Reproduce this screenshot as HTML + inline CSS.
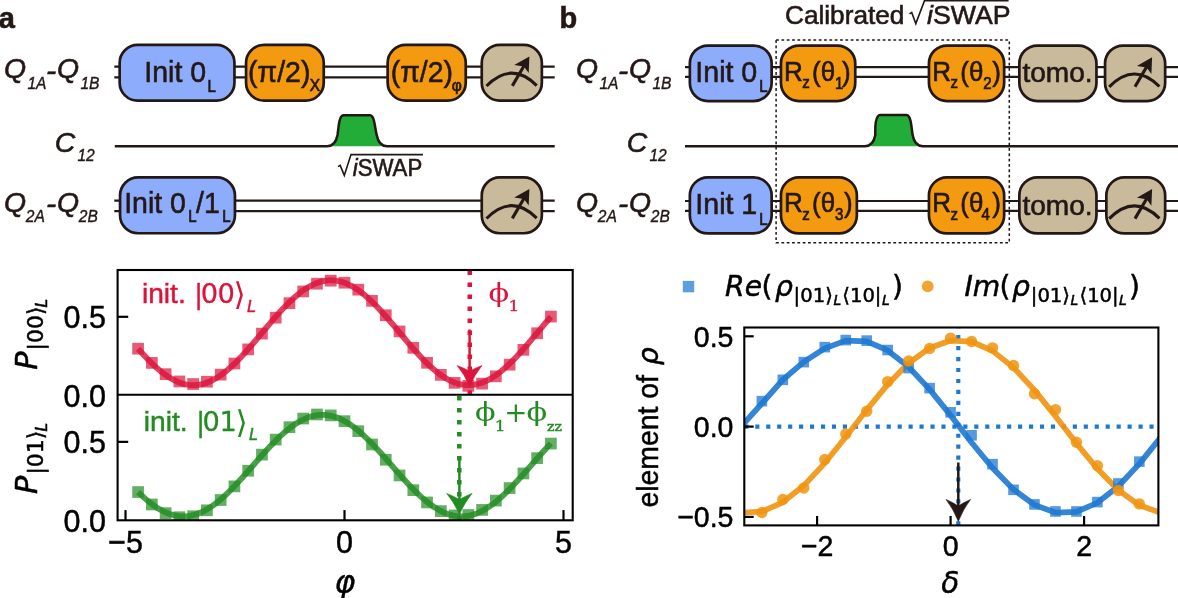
<!DOCTYPE html>
<html lang="en"><head><meta charset="utf-8"><title>Figure</title>
<style>
html,body{margin:0;padding:0;background:#fff;}
body{width:1178px;height:598px;overflow:hidden;}
svg{display:block;}
.ls{font-family:"Liberation Sans", sans-serif;}
.dj{font-family:"DejaVu Sans", sans-serif;}
.ds{font-family:"DejaVu Serif", serif;}
text{white-space:pre;}
</style></head><body>
<svg width="1178" height="598" viewBox="0 0 1178 598">
<rect width="1178" height="598" fill="#fff"/>
<text class="ls" transform="translate(-1.3,28.1) scale(0.9615,1)" font-size="30.16" fill="#231815" stroke="#231815" stroke-width="0.6" style="font-weight:bold;">a</text>
<text class="ls" x="4" y="78.2" font-size="28.4" fill="#231815" stroke="#231815" stroke-width="0.6" style="font-style:italic;">Q</text>
<text class="ls" x="27.4" y="88.6" font-size="15.6" fill="#231815" stroke="#231815" stroke-width="0.35" style="font-style:italic;">1A</text>
<text class="ls" transform="translate(46,79.6) scale(1.0800,1)" font-size="28.4" fill="#231815" stroke="#231815" stroke-width="0.6" style="font-style:italic;">-</text>
<text class="ls" x="57" y="78.2" font-size="28.4" fill="#231815" stroke="#231815" stroke-width="0.6" style="font-style:italic;">Q</text>
<text class="ls" x="80.4" y="88.6" font-size="15.6" fill="#231815" stroke="#231815" stroke-width="0.35" style="font-style:italic;">1B</text>
<text class="ls" x="54.8" y="151.8" font-size="28.4" fill="#231815" stroke="#231815" stroke-width="0.6" style="font-style:italic;">C</text>
<text class="ls" x="77.4" y="160.6" font-size="15.6" fill="#231815" stroke="#231815" stroke-width="0.35" style="font-style:italic;">12</text>
<text class="ls" x="4" y="211.5" font-size="28.4" fill="#231815" stroke="#231815" stroke-width="0.6" style="font-style:italic;">Q</text>
<text class="ls" x="25.8" y="221.9" font-size="15.6" fill="#231815" stroke="#231815" stroke-width="0.35" style="font-style:italic;">2A</text>
<text class="ls" transform="translate(46,212.9) scale(1.0800,1)" font-size="28.4" fill="#231815" stroke="#231815" stroke-width="0.6" style="font-style:italic;">-</text>
<text class="ls" x="57" y="211.5" font-size="28.4" fill="#231815" stroke="#231815" stroke-width="0.6" style="font-style:italic;">Q</text>
<text class="ls" x="78.8" y="221.9" font-size="15.6" fill="#231815" stroke="#231815" stroke-width="0.35" style="font-style:italic;">2B</text>
<line x1="114.3" y1="66.7" x2="554.7" y2="66.7" stroke="#231815" stroke-width="2.2"/>
<line x1="114.3" y1="77.3" x2="554.7" y2="77.3" stroke="#231815" stroke-width="2.2"/>
<line x1="114.3" y1="200.7" x2="554.7" y2="200.7" stroke="#231815" stroke-width="2.2"/>
<line x1="114.3" y1="211.2" x2="554.7" y2="211.2" stroke="#231815" stroke-width="2.2"/>
<path d="M327.2,146.2 C332,146.2 336,143 337.5,135 C338.6,128 338.8,120 341,117 C342,115.6 343,115.2 343.5,115.2 L370,115.2 C370.5,115.2 371.5,115.6 372.5,117 C374.7,120 374.9,128 376.7,135 C378.2,143 382.2,146.2 387,146.2 Z" fill="#22AC38" stroke="none"/>
<path d="M114.8,146.2 L327.2,146.2 C332,146.2 336,143 337.5,135 C338.6,128 338.8,120 341,117 C342,115.6 343,115.2 343.5,115.2 L370,115.2 C370.5,115.2 371.5,115.6 372.5,117 C374.7,120 374.9,128 376.7,135 C378.2,143 382.2,146.2 387,146.2 L554.7,146.2" fill="none" stroke="#231815" stroke-width="2.5" stroke-linejoin="round"/>
<rect x="119.65" y="44.95" width="114.8" height="55.7" rx="18" ry="18" fill="#8DACFC" stroke="#231815" stroke-width="2.7"/>
<rect x="246.05" y="44.95" width="77.7" height="55.7" rx="18" ry="18" fill="#F39A11" stroke="#231815" stroke-width="2.7"/>
<rect x="387.65" y="44.95" width="78.1" height="55.7" rx="18" ry="18" fill="#F39A11" stroke="#231815" stroke-width="2.7"/>
<rect x="481.75" y="44.95" width="60.1" height="55.7" rx="18" ry="18" fill="#C9BA9B" stroke="#231815" stroke-width="2.7"/>
<g transform="translate(0,0)" stroke="#231815" fill="none" stroke-width="3.1">
<path d="M486.5,86 Q511.6,60.5 536.7,85.6"/>
<line x1="512.3" y1="85.9" x2="524.5" y2="65"/>
<path d="M529.4,56.4 L514.2,65.0 L523.9,66.6 L528.7,73.0 Z" fill="#231815" stroke="none"/>
</g>
<rect x="120.05" y="177.45" width="114.9" height="55.8" rx="18" ry="18" fill="#8DACFC" stroke="#231815" stroke-width="2.7"/>
<rect x="481.75" y="177.45" width="60.1" height="55.8" rx="18" ry="18" fill="#C9BA9B" stroke="#231815" stroke-width="2.7"/>
<g transform="translate(0,132.5)" stroke="#231815" fill="none" stroke-width="3.1">
<path d="M486.5,86 Q511.6,60.5 536.7,85.6"/>
<line x1="512.3" y1="85.9" x2="524.5" y2="65"/>
<path d="M529.4,56.4 L514.2,65.0 L523.9,66.6 L528.7,73.0 Z" fill="#231815" stroke="none"/>
</g>
<text class="ls" transform="translate(144.3,82.3) scale(0.9615,1)" font-size="29.64" fill="#231815" stroke="#231815" stroke-width="0.6">Init 0</text>
<text class="ls" transform="translate(207.6,91.8) scale(0.9615,1)" font-size="15.6" fill="#231815" stroke="#231815" stroke-width="0.7">L</text>
<text class="ls" transform="translate(248,81.6) scale(0.9615,1)" font-size="29.64" fill="#231815" stroke="#231815" stroke-width="0.6">(π/2)</text>
<text class="ls" transform="translate(309.8,90.5) scale(0.9615,1)" font-size="16.12" fill="#231815" stroke="#231815" stroke-width="0.7">X</text>
<text class="ls" transform="translate(390.7,81.6) scale(0.9615,1)" font-size="29.64" fill="#231815" stroke="#231815" stroke-width="0.6">(π/2)</text>
<text class="ls" transform="translate(451.8,91.3) scale(0.9615,1)" font-size="16.12" fill="#231815" stroke="#231815" stroke-width="0.7">φ</text>
<text class="ls" transform="translate(124.2,213.4) scale(0.9615,1)" font-size="29.64" fill="#231815" stroke="#231815" stroke-width="0.6">Init 0</text>
<text class="ls" transform="translate(188.2,222) scale(0.9615,1)" font-size="15.6" fill="#231815" stroke="#231815" stroke-width="0.7">L</text>
<text class="ls" transform="translate(196,213.4) scale(0.9615,1)" font-size="29.64" fill="#231815" stroke="#231815" stroke-width="0.6">/1</text>
<text class="ls" transform="translate(222.2,222) scale(0.9615,1)" font-size="15.6" fill="#231815" stroke="#231815" stroke-width="0.7">L</text>
<path d="M338,166.66 L340.2,165.42 L344.3,175.4 L351,154.6 L423,154.6" fill="none" stroke="#231815" stroke-width="1.6" stroke-linejoin="miter"/>
<text class="ls" transform="translate(352.7,175.5) scale(0.9615,1)" font-size="23.09" fill="#231815" stroke="#231815" stroke-width="0.6" style="font-style:italic;">i</text>
<text class="ls" transform="translate(357.7,175.5) scale(0.9615,1)" font-size="23.09" fill="#231815" stroke="#231815" stroke-width="0.6">SWAP</text>
<text class="ls" transform="translate(559.6,28.3) scale(0.9615,1)" font-size="30.16" fill="#231815" stroke="#231815" stroke-width="0.6" style="font-weight:bold;">b</text>
<text class="ls" x="576" y="78.2" font-size="28.4" fill="#231815" stroke="#231815" stroke-width="0.6" style="font-style:italic;">Q</text>
<text class="ls" x="599.4" y="88.6" font-size="15.6" fill="#231815" stroke="#231815" stroke-width="0.35" style="font-style:italic;">1A</text>
<text class="ls" transform="translate(618,79.6) scale(1.0800,1)" font-size="28.4" fill="#231815" stroke="#231815" stroke-width="0.6" style="font-style:italic;">-</text>
<text class="ls" x="629" y="78.2" font-size="28.4" fill="#231815" stroke="#231815" stroke-width="0.6" style="font-style:italic;">Q</text>
<text class="ls" x="652.4" y="88.6" font-size="15.6" fill="#231815" stroke="#231815" stroke-width="0.35" style="font-style:italic;">1B</text>
<text class="ls" x="626.8" y="151.8" font-size="28.4" fill="#231815" stroke="#231815" stroke-width="0.6" style="font-style:italic;">C</text>
<text class="ls" x="649.4" y="160.6" font-size="15.6" fill="#231815" stroke="#231815" stroke-width="0.35" style="font-style:italic;">12</text>
<text class="ls" x="576" y="211.5" font-size="28.4" fill="#231815" stroke="#231815" stroke-width="0.6" style="font-style:italic;">Q</text>
<text class="ls" x="597.8" y="221.9" font-size="15.6" fill="#231815" stroke="#231815" stroke-width="0.35" style="font-style:italic;">2A</text>
<text class="ls" transform="translate(618,212.9) scale(1.0800,1)" font-size="28.4" fill="#231815" stroke="#231815" stroke-width="0.6" style="font-style:italic;">-</text>
<text class="ls" x="629" y="211.5" font-size="28.4" fill="#231815" stroke="#231815" stroke-width="0.6" style="font-style:italic;">Q</text>
<text class="ls" x="650.8" y="221.9" font-size="15.6" fill="#231815" stroke="#231815" stroke-width="0.35" style="font-style:italic;">2B</text>
<line x1="685" y1="67.2" x2="1178" y2="67.2" stroke="#231815" stroke-width="2.2"/>
<line x1="685" y1="76.9" x2="1178" y2="76.9" stroke="#231815" stroke-width="2.2"/>
<line x1="685" y1="201" x2="1178" y2="201" stroke="#231815" stroke-width="2.2"/>
<line x1="685" y1="210.9" x2="1178" y2="210.9" stroke="#231815" stroke-width="2.2"/>
<path d="M865,146.3 C869.8,146.3 873.8,143.1 875.3,135.1 C875.1,128.1 875.3,119.9 877.5,116.9 C878.5,115.5 879.5,115.1 880,115.1 L906.6,115.1 C907.1,115.1 908.1,115.5 909.1,116.9 C911.3,119.9 911.5,128.1 912.6,135.1 C914.1,143.1 918.1,146.3 922.9,146.3 Z" fill="#22AC38" stroke="none"/>
<path d="M685,146.3 L865,146.3 C869.8,146.3 873.8,143.1 875.3,135.1 C875.1,128.1 875.3,119.9 877.5,116.9 C878.5,115.5 879.5,115.1 880,115.1 L906.6,115.1 C907.1,115.1 908.1,115.5 909.1,116.9 C911.3,119.9 911.5,128.1 912.6,135.1 C914.1,143.1 918.1,146.3 922.9,146.3 L1178,146.3" fill="none" stroke="#231815" stroke-width="2.5" stroke-linejoin="round"/>
<rect x="776.1" y="40.1" width="233.2" height="202.6" fill="none" stroke="#231815" stroke-width="1.5" stroke-dasharray="2.8 2.53"/>
<rect x="689.85" y="45.55" width="81.8" height="55.5" rx="18" ry="18" fill="#8DACFC" stroke="#231815" stroke-width="2.7"/>
<rect x="780.95" y="45.55" width="74.3" height="55.5" rx="18" ry="18" fill="#F39A11" stroke="#231815" stroke-width="2.7"/>
<rect x="928.95" y="45.55" width="75.2" height="55.5" rx="18" ry="18" fill="#F39A11" stroke="#231815" stroke-width="2.7"/>
<rect x="1019.35" y="45.55" width="77.1" height="55.5" rx="18" ry="18" fill="#C9BA9B" stroke="#231815" stroke-width="2.7"/>
<rect x="1105.05" y="45.55" width="60.1" height="55.5" rx="18" ry="18" fill="#C9BA9B" stroke="#231815" stroke-width="2.7"/>
<g transform="translate(622.7,0.9)" stroke="#231815" fill="none" stroke-width="3.1">
<path d="M486.5,86 Q511.6,60.5 536.7,85.6"/>
<line x1="512.3" y1="85.9" x2="524.5" y2="65"/>
<path d="M529.4,56.4 L514.2,65.0 L523.9,66.6 L528.7,73.0 Z" fill="#231815" stroke="none"/>
</g>
<rect x="689.85" y="177.35" width="81.8" height="56.1" rx="18" ry="18" fill="#8DACFC" stroke="#231815" stroke-width="2.7"/>
<rect x="780.95" y="177.35" width="75.9" height="56.1" rx="18" ry="18" fill="#F39A11" stroke="#231815" stroke-width="2.7"/>
<rect x="928.95" y="177.35" width="75.2" height="56.1" rx="18" ry="18" fill="#F39A11" stroke="#231815" stroke-width="2.7"/>
<rect x="1019.35" y="177.35" width="77.1" height="56.1" rx="18" ry="18" fill="#C9BA9B" stroke="#231815" stroke-width="2.7"/>
<rect x="1106.35" y="177.35" width="58.8" height="56.1" rx="18" ry="18" fill="#C9BA9B" stroke="#231815" stroke-width="2.7"/>
<g transform="translate(622.7,132.7)" stroke="#231815" fill="none" stroke-width="3.1">
<path d="M486.5,86 Q511.6,60.5 536.7,85.6"/>
<line x1="512.3" y1="85.9" x2="524.5" y2="65"/>
<path d="M529.4,56.4 L514.2,65.0 L523.9,66.6 L528.7,73.0 Z" fill="#231815" stroke="none"/>
</g>
<text class="ls" transform="translate(695.3,81.8) scale(0.9615,1)" font-size="29.74" fill="#231815" stroke="#231815" stroke-width="0.6">Init 0</text>
<text class="ls" transform="translate(759.2,92) scale(0.9615,1)" font-size="15.6" fill="#231815" stroke="#231815" stroke-width="0.7">L</text>
<text class="ls" transform="translate(784,80.6) scale(0.9615,1)" font-size="27.04" fill="#231815" stroke="#231815" stroke-width="0.6">R</text>
<text class="ls" transform="translate(802.2,88.4) scale(0.9615,1)" font-size="15.6" fill="#231815" stroke="#231815" stroke-width="0.7">z</text>
<text class="ls" transform="translate(812,80.6) scale(0.9615,1)" font-size="27.04" fill="#231815" stroke="#231815" stroke-width="0.6">(θ</text>
<text class="ls" transform="translate(834.9,88.7) scale(0.9615,1)" font-size="15.6" fill="#231815" stroke="#231815" stroke-width="0.7">1</text>
<text class="ls" transform="translate(841.9,80.6) scale(0.9615,1)" font-size="27.04" fill="#231815" stroke="#231815" stroke-width="0.6">)</text>
<text class="ls" transform="translate(932.3,80.6) scale(0.9615,1)" font-size="27.04" fill="#231815" stroke="#231815" stroke-width="0.6">R</text>
<text class="ls" transform="translate(950.5,88.4) scale(0.9615,1)" font-size="15.6" fill="#231815" stroke="#231815" stroke-width="0.7">z</text>
<text class="ls" transform="translate(960.3,80.6) scale(0.9615,1)" font-size="27.04" fill="#231815" stroke="#231815" stroke-width="0.6">(θ</text>
<text class="ls" transform="translate(983.2,88.7) scale(0.9615,1)" font-size="15.6" fill="#231815" stroke="#231815" stroke-width="0.7">2</text>
<text class="ls" transform="translate(992.2,80.6) scale(0.9615,1)" font-size="27.04" fill="#231815" stroke="#231815" stroke-width="0.6">)</text>
<text class="ls" transform="translate(1022.4,82) scale(1.0250,1)" font-size="27.4" fill="#231815" stroke="#231815" stroke-width="0.6">tomo.</text>
<text class="ls" transform="translate(695.3,214.3) scale(0.9615,1)" font-size="29.74" fill="#231815" stroke="#231815" stroke-width="0.6">Init 1</text>
<text class="ls" transform="translate(759.2,224.5) scale(0.9615,1)" font-size="15.6" fill="#231815" stroke="#231815" stroke-width="0.7">L</text>
<text class="ls" transform="translate(784,212.2) scale(0.9615,1)" font-size="27.04" fill="#231815" stroke="#231815" stroke-width="0.6">R</text>
<text class="ls" transform="translate(802.2,220) scale(0.9615,1)" font-size="15.6" fill="#231815" stroke="#231815" stroke-width="0.7">z</text>
<text class="ls" transform="translate(812,212.2) scale(0.9615,1)" font-size="27.04" fill="#231815" stroke="#231815" stroke-width="0.6">(θ</text>
<text class="ls" transform="translate(834.9,220.3) scale(0.9615,1)" font-size="15.6" fill="#231815" stroke="#231815" stroke-width="0.7">3</text>
<text class="ls" transform="translate(843.9,212.2) scale(0.9615,1)" font-size="27.04" fill="#231815" stroke="#231815" stroke-width="0.6">)</text>
<text class="ls" transform="translate(932.3,212.2) scale(0.9615,1)" font-size="27.04" fill="#231815" stroke="#231815" stroke-width="0.6">R</text>
<text class="ls" transform="translate(950.5,220) scale(0.9615,1)" font-size="15.6" fill="#231815" stroke="#231815" stroke-width="0.7">z</text>
<text class="ls" transform="translate(960.3,212.2) scale(0.9615,1)" font-size="27.04" fill="#231815" stroke="#231815" stroke-width="0.6">(θ</text>
<text class="ls" transform="translate(981.5,220.3) scale(0.9615,1)" font-size="15.6" fill="#231815" stroke="#231815" stroke-width="0.7">4</text>
<text class="ls" transform="translate(992.2,212.2) scale(0.9615,1)" font-size="27.04" fill="#231815" stroke="#231815" stroke-width="0.6">)</text>
<text class="ls" transform="translate(1022.4,214.5) scale(1.0250,1)" font-size="27.4" fill="#231815" stroke="#231815" stroke-width="0.6">tomo.</text>
<text class="ls" x="785" y="24.3" font-size="26.2" fill="#231815" stroke="#231815" stroke-width="0.6">Calibrated</text>
<path d="M909.5,13.94 L911.7,12.56 L915.8,23.6 L924.5,0.6 L1008.6,0.6" fill="none" stroke="#231815" stroke-width="1.6" stroke-linejoin="miter"/>
<text class="ls" x="927" y="24.3" font-size="26.7" fill="#231815" stroke="#231815" stroke-width="0.6" style="font-style:italic;">i</text>
<text class="ls" x="933" y="24.3" font-size="26.7" fill="#231815" stroke="#231815" stroke-width="0.6">SWAP</text>
<clipPath id="ca1"><rect x="117.6" y="270.0" width="455.1" height="124.80000000000001"/></clipPath>
<clipPath id="ca2"><rect x="117.6" y="394.8" width="455.1" height="125.49999999999994"/></clipPath>
<g clip-path="url(#ca1)">
<polyline points="138.1,348.7 140.16,351.04 142.23,353.33 144.29,355.58 146.35,357.77 148.42,359.91 150.48,361.99 152.55,364.01 154.61,365.95 156.67,367.83 158.74,369.62 160.8,371.33 162.87,372.96 164.93,374.5 166.99,375.94 169.06,377.29 171.12,378.54 173.19,379.69 175.25,380.73 177.31,381.67 179.38,382.49 181.44,383.21 183.51,383.82 185.57,384.31 187.63,384.69 189.7,384.95 191.76,385.09 193.83,385.12 195.89,385.04 197.95,384.83 200.02,384.52 202.08,384.08 204.15,383.54 206.21,382.87 208.27,382.1 210.34,381.22 212.4,380.23 214.47,379.14 216.53,377.94 218.59,376.64 220.66,375.25 222.72,373.75 224.79,372.17 226.85,370.5 228.91,368.75 230.98,366.92 233.04,365.01 235.11,363.03 237.17,360.98 239.23,358.87 241.3,356.7 243.36,354.48 245.43,352.21 247.49,349.9 249.55,347.54 251.62,345.16 253.68,342.75 255.75,340.31 257.81,337.86 259.87,335.4 261.94,332.93 264,330.46 266.07,328 268.13,325.54 270.2,323.1 272.26,320.69 274.32,318.3 276.39,315.94 278.45,313.62 280.52,311.34 282.58,309.11 284.64,306.93 286.71,304.81 288.77,302.75 290.84,300.76 292.9,298.84 294.96,296.99 297.03,295.22 299.09,293.54 301.16,291.94 303.22,290.44 305.28,289.02 307.35,287.71 309.41,286.49 311.48,285.38 313.54,284.37 315.6,283.47 317.67,282.68 319.73,282 321.8,281.43 323.86,280.98 325.92,280.64 327.99,280.41 330.05,280.31 332.12,280.32 334.18,280.44 336.24,280.68 338.31,281.04 340.37,281.51 342.44,282.1 344.5,282.79 346.56,283.6 348.63,284.52 350.69,285.55 352.76,286.67 354.82,287.91 356.88,289.24 358.95,290.67 361.01,292.19 363.08,293.8 365.14,295.49 367.2,297.27 369.27,299.13 371.33,301.07 373.4,303.07 375.46,305.14 377.52,307.27 379.59,309.46 381.65,311.7 383.72,313.98 385.78,316.31 387.84,318.67 389.91,321.07 391.97,323.49 394.04,325.93 396.1,328.38 398.16,330.85 400.23,333.32 402.29,335.79 404.36,338.25 406.42,340.7 408.48,343.13 410.55,345.54 412.61,347.92 414.68,350.26 416.74,352.57 418.8,354.83 420.87,357.05 422.93,359.21 425,361.31 427.06,363.34 429.13,365.31 431.19,367.21 433.25,369.03 435.32,370.77 437.38,372.43 439.45,373.99 441.51,375.47 443.57,376.85 445.64,378.13 447.7,379.32 449.77,380.39 451.83,381.37 453.89,382.23 455.96,382.99 458.02,383.63 460.09,384.16 462.15,384.57 464.21,384.87 466.28,385.06 468.34,385.13 470.41,385.08 472.47,384.92 474.53,384.64 476.6,384.24 478.66,383.73 480.73,383.11 482.79,382.37 484.85,381.53 486.92,380.57 488.98,379.51 491.05,378.35 493.11,377.08 495.17,375.72 497.24,374.26 499.3,372.71 501.37,371.07 503.43,369.35 505.49,367.54 507.56,365.65 509.62,363.7 511.69,361.67 513.75,359.58 515.81,357.43 517.88,355.23 519.94,352.97 522.01,350.67 524.07,348.33 526.13,345.96 528.2,343.55 530.26,341.13 532.33,338.68 534.39,336.22 536.45,333.75 538.52,331.28 540.58,328.82 542.65,326.36 544.71,323.92 546.77,321.49 548.84,319.09 550.9,316.72" fill="none" stroke="#DC143C" stroke-width="5.9" stroke-opacity="0.82" stroke-linecap="butt" stroke-linejoin="round"/>
<rect x="132.25" y="342.85" width="11.7" height="11.7" fill="#DC143C" fill-opacity="0.7"/>
<rect x="146.01" y="357.05" width="11.7" height="11.7" fill="#DC143C" fill-opacity="0.7"/>
<rect x="159.77" y="368.32" width="11.7" height="11.7" fill="#DC143C" fill-opacity="0.7"/>
<rect x="173.53" y="375.6" width="11.7" height="11.7" fill="#DC143C" fill-opacity="0.7"/>
<rect x="187.29" y="378.19" width="11.7" height="11.7" fill="#DC143C" fill-opacity="0.7"/>
<rect x="201.05" y="375.85" width="11.7" height="11.7" fill="#DC143C" fill-opacity="0.7"/>
<rect x="214.81" y="368.78" width="11.7" height="11.7" fill="#DC143C" fill-opacity="0.7"/>
<rect x="228.57" y="357.65" width="11.7" height="11.7" fill="#DC143C" fill-opacity="0.7"/>
<rect x="242.33" y="343.53" width="11.7" height="11.7" fill="#DC143C" fill-opacity="0.7"/>
<rect x="256.09" y="327.76" width="11.7" height="11.7" fill="#DC143C" fill-opacity="0.7"/>
<rect x="269.85" y="311.84" width="11.7" height="11.7" fill="#DC143C" fill-opacity="0.7"/>
<rect x="283.61" y="297.32" width="11.7" height="11.7" fill="#DC143C" fill-opacity="0.7"/>
<rect x="297.37" y="285.6" width="11.7" height="11.7" fill="#DC143C" fill-opacity="0.7"/>
<rect x="311.13" y="277.85" width="11.7" height="11.7" fill="#DC143C" fill-opacity="0.7"/>
<rect x="324.89" y="274.83" width="11.7" height="11.7" fill="#DC143C" fill-opacity="0.7"/>
<rect x="338.65" y="276.87" width="11.7" height="11.7" fill="#DC143C" fill-opacity="0.7"/>
<rect x="352.41" y="283.81" width="11.7" height="11.7" fill="#DC143C" fill-opacity="0.7"/>
<rect x="366.17" y="295.01" width="11.7" height="11.7" fill="#DC143C" fill-opacity="0.7"/>
<rect x="379.93" y="309.39" width="11.7" height="11.7" fill="#DC143C" fill-opacity="0.7"/>
<rect x="393.69" y="325.57" width="11.7" height="11.7" fill="#DC143C" fill-opacity="0.7"/>
<rect x="407.45" y="341.96" width="11.7" height="11.7" fill="#DC143C" fill-opacity="0.7"/>
<rect x="421.21" y="356.94" width="11.7" height="11.7" fill="#DC143C" fill-opacity="0.7"/>
<rect x="434.97" y="369.02" width="11.7" height="11.7" fill="#DC143C" fill-opacity="0.7"/>
<rect x="448.73" y="376.98" width="11.7" height="11.7" fill="#DC143C" fill-opacity="0.7"/>
<rect x="462.49" y="380.01" width="11.7" height="11.7" fill="#DC143C" fill-opacity="0.7"/>
<rect x="476.25" y="377.78" width="11.7" height="11.7" fill="#DC143C" fill-opacity="0.7"/>
<rect x="490.01" y="370.49" width="11.7" height="11.7" fill="#DC143C" fill-opacity="0.7"/>
<rect x="503.77" y="358.84" width="11.7" height="11.7" fill="#DC143C" fill-opacity="0.7"/>
<rect x="517.53" y="343.98" width="11.7" height="11.7" fill="#DC143C" fill-opacity="0.7"/>
<rect x="531.29" y="327.39" width="11.7" height="11.7" fill="#DC143C" fill-opacity="0.7"/>
<rect x="545.05" y="310.72" width="11.7" height="11.7" fill="#DC143C" fill-opacity="0.7"/>
</g>
<g clip-path="url(#ca2)">
<polyline points="138.1,492.03 140.16,494.02 142.23,495.95 144.29,497.82 146.35,499.61 148.42,501.33 150.48,502.98 152.55,504.54 154.61,506.02 156.67,507.4 158.74,508.7 160.8,509.91 162.87,511.02 164.93,512.03 166.99,512.93 169.06,513.74 171.12,514.44 173.19,515.04 175.25,515.52 177.31,515.9 179.38,516.17 181.44,516.33 183.51,516.38 185.57,516.32 187.63,516.14 189.7,515.86 191.76,515.47 193.83,514.97 195.89,514.37 197.95,513.65 200.02,512.83 202.08,511.91 204.15,510.89 206.21,509.77 208.27,508.56 210.34,507.25 212.4,505.85 214.47,504.36 216.53,502.79 218.59,501.14 220.66,499.41 222.72,497.61 224.79,495.73 226.85,493.8 228.91,491.8 230.98,489.74 233.04,487.63 235.11,485.48 237.17,483.28 239.23,481.04 241.3,478.77 243.36,476.47 245.43,474.14 247.49,471.8 249.55,469.44 251.62,467.08 253.68,464.71 255.75,462.35 257.81,459.99 259.87,457.64 261.94,455.31 264,453.01 266.07,450.73 268.13,448.48 270.2,446.27 272.26,444.11 274.32,441.99 276.39,439.92 278.45,437.91 280.52,435.95 282.58,434.07 284.64,432.25 286.71,430.5 288.77,428.83 290.84,427.24 292.9,425.74 294.96,424.32 297.03,422.99 299.09,421.75 301.16,420.61 303.22,419.56 305.28,418.62 307.35,417.78 309.41,417.04 311.48,416.41 313.54,415.89 315.6,415.47 317.67,415.17 319.73,414.97 321.8,414.88 323.86,414.91 325.92,415.04 327.99,415.29 330.05,415.64 332.12,416.1 334.18,416.67 336.24,417.35 338.31,418.13 340.37,419.02 342.44,420.01 344.5,421.09 346.56,422.28 348.63,423.55 350.69,424.92 352.76,426.38 354.82,427.92 356.88,429.55 358.95,431.25 361.01,433.03 363.08,434.88 365.14,436.8 367.2,438.77 369.27,440.81 371.33,442.9 373.4,445.04 375.46,447.23 377.52,449.46 379.59,451.72 381.65,454.01 383.72,456.32 385.78,458.66 387.84,461.01 389.91,463.37 391.97,465.74 394.04,468.11 396.1,470.47 398.16,472.82 400.23,475.15 402.29,477.47 404.36,479.76 406.42,482.02 408.48,484.24 410.55,486.42 412.61,488.56 414.68,490.64 416.74,492.67 418.8,494.65 420.87,496.56 422.93,498.4 425,500.17 427.06,501.87 429.13,503.49 431.19,505.02 433.25,506.47 435.32,507.83 437.38,509.1 439.45,510.27 441.51,511.35 443.57,512.33 445.64,513.2 447.7,513.98 449.77,514.64 451.83,515.2 453.89,515.66 455.96,516 458.02,516.23 460.09,516.36 462.15,516.37 464.21,516.27 466.28,516.07 468.34,515.75 470.41,515.32 472.47,514.79 474.53,514.15 476.6,513.4 478.66,512.55 480.73,511.6 482.79,510.55 484.85,509.4 486.92,508.15 488.98,506.81 491.05,505.38 493.11,503.87 495.17,502.27 497.24,500.59 499.3,498.84 501.37,497.02 503.43,495.12 505.49,493.16 507.56,491.15 509.62,489.07 511.69,486.95 513.75,484.78 515.81,482.56 517.88,480.31 519.94,478.03 522.01,475.72 524.07,473.39 526.13,471.05 528.2,468.69 530.26,466.32 532.33,463.95 534.39,461.59 536.45,459.24 538.52,456.9 540.58,454.57 542.65,452.28 544.71,450.01 546.77,447.77 548.84,445.58 550.9,443.42" fill="none" stroke="#228B22" stroke-width="5.9" stroke-opacity="0.82" stroke-linecap="butt" stroke-linejoin="round"/>
<rect x="132.25" y="486.18" width="11.7" height="11.7" fill="#228B22" fill-opacity="0.7"/>
<rect x="146.01" y="498.63" width="11.7" height="11.7" fill="#228B22" fill-opacity="0.7"/>
<rect x="159.77" y="507.31" width="11.7" height="11.7" fill="#228B22" fill-opacity="0.7"/>
<rect x="173.53" y="511.37" width="11.7" height="11.7" fill="#228B22" fill-opacity="0.7"/>
<rect x="187.29" y="510.39" width="11.7" height="11.7" fill="#228B22" fill-opacity="0.7"/>
<rect x="201.05" y="504.47" width="11.7" height="11.7" fill="#228B22" fill-opacity="0.7"/>
<rect x="214.81" y="494.18" width="11.7" height="11.7" fill="#228B22" fill-opacity="0.7"/>
<rect x="228.57" y="480.54" width="11.7" height="11.7" fill="#228B22" fill-opacity="0.7"/>
<rect x="242.33" y="464.9" width="11.7" height="11.7" fill="#228B22" fill-opacity="0.7"/>
<rect x="256.09" y="448.78" width="11.7" height="11.7" fill="#228B22" fill-opacity="0.7"/>
<rect x="269.85" y="433.78" width="11.7" height="11.7" fill="#228B22" fill-opacity="0.7"/>
<rect x="283.61" y="421.35" width="11.7" height="11.7" fill="#228B22" fill-opacity="0.7"/>
<rect x="297.37" y="412.69" width="11.7" height="11.7" fill="#228B22" fill-opacity="0.7"/>
<rect x="311.13" y="408.64" width="11.7" height="11.7" fill="#228B22" fill-opacity="0.7"/>
<rect x="324.89" y="409.55" width="11.7" height="11.7" fill="#228B22" fill-opacity="0.7"/>
<rect x="338.65" y="415.32" width="11.7" height="11.7" fill="#228B22" fill-opacity="0.7"/>
<rect x="352.41" y="425.34" width="11.7" height="11.7" fill="#228B22" fill-opacity="0.7"/>
<rect x="366.17" y="438.63" width="11.7" height="11.7" fill="#228B22" fill-opacity="0.7"/>
<rect x="379.93" y="453.88" width="11.7" height="11.7" fill="#228B22" fill-opacity="0.7"/>
<rect x="393.69" y="469.61" width="11.7" height="11.7" fill="#228B22" fill-opacity="0.7"/>
<rect x="407.45" y="484.3" width="11.7" height="11.7" fill="#228B22" fill-opacity="0.7"/>
<rect x="421.21" y="496.58" width="11.7" height="11.7" fill="#228B22" fill-opacity="0.7"/>
<rect x="434.97" y="505.27" width="11.7" height="11.7" fill="#228B22" fill-opacity="0.7"/>
<rect x="448.73" y="509.59" width="11.7" height="11.7" fill="#228B22" fill-opacity="0.7"/>
<rect x="462.49" y="509.16" width="11.7" height="11.7" fill="#228B22" fill-opacity="0.7"/>
<rect x="476.25" y="504.05" width="11.7" height="11.7" fill="#228B22" fill-opacity="0.7"/>
<rect x="490.01" y="494.77" width="11.7" height="11.7" fill="#228B22" fill-opacity="0.7"/>
<rect x="503.77" y="482.23" width="11.7" height="11.7" fill="#228B22" fill-opacity="0.7"/>
<rect x="517.53" y="467.61" width="11.7" height="11.7" fill="#228B22" fill-opacity="0.7"/>
<rect x="531.29" y="452.29" width="11.7" height="11.7" fill="#228B22" fill-opacity="0.7"/>
<rect x="545.05" y="437.72" width="11.7" height="11.7" fill="#228B22" fill-opacity="0.7"/>
</g>
<line x1="469.8" y1="270.6" x2="469.8" y2="394.8" stroke="#DC143C" stroke-width="4.5" stroke-dasharray="4.5 7.5"/>
<line x1="459.3" y1="396" x2="459.3" y2="520.3" stroke="#228B22" stroke-width="4.5" stroke-dasharray="4.5 7.5"/>
<line x1="469.6" y1="329.5" x2="469.6" y2="372.2" stroke="#DC143C" stroke-width="2.5"/>
<path d="M469.6,386.4 Q464.64,374.75 457.2,365.6 Q464.02,368.12 469.6,371.2 Q475.18,368.12 482,365.6 Q474.56,374.75 469.6,386.4 Z" fill="#DC143C" stroke="#DC143C" stroke-width="0.6" stroke-linejoin="round"/>
<line x1="459.4" y1="458.8" x2="459.4" y2="500.4" stroke="#228B22" stroke-width="2.5"/>
<path d="M459.4,514.4 Q454.32,502.64 446.7,493.4 Q453.69,496.1 459.4,499.4 Q465.11,496.1 472.1,493.4 Q464.48,502.64 459.4,514.4 Z" fill="#228B22" stroke="#228B22" stroke-width="0.6" stroke-linejoin="round"/>
<rect x="117.6" y="270.0" width="455.1" height="250.29999999999995" fill="none" stroke="#000" stroke-width="2.1"/>
<line x1="117.6" y1="394.8" x2="572.7" y2="394.8" stroke="#000" stroke-width="2.1"/>
<line x1="125.5" y1="520.3" x2="125.5" y2="510.1" stroke="#000" stroke-width="2.2"/>
<line x1="344.5" y1="520.3" x2="344.5" y2="510.1" stroke="#000" stroke-width="2.2"/>
<line x1="563.5" y1="520.3" x2="563.5" y2="510.1" stroke="#000" stroke-width="2.2"/>
<line x1="117.6" y1="316.8" x2="128.2" y2="316.8" stroke="#000" stroke-width="2.2"/>
<line x1="117.6" y1="441.86" x2="128.2" y2="441.86" stroke="#000" stroke-width="2.2"/>
<text class="ls" transform="translate(105.9,328.1) scale(0.9615,1)" font-size="31.72" fill="#000" stroke="#000" stroke-width="0.5" text-anchor="end">0.5</text>
<text class="ls" transform="translate(105.9,407) scale(0.9615,1)" font-size="31.72" fill="#000" stroke="#000" stroke-width="0.5" text-anchor="end">0.0</text>
<text class="ls" transform="translate(105.9,453) scale(0.9615,1)" font-size="31.72" fill="#000" stroke="#000" stroke-width="0.5" text-anchor="end">0.5</text>
<text class="ls" transform="translate(105.9,531.5) scale(0.9615,1)" font-size="31.72" fill="#000" stroke="#000" stroke-width="0.5" text-anchor="end">0.0</text>
<text class="ls" transform="translate(125.5,553.3) scale(0.9615,1)" font-size="31.72" fill="#000" stroke="#000" stroke-width="0.5" text-anchor="middle">−5</text>
<text class="ls" transform="translate(344.5,553.3) scale(0.9615,1)" font-size="31.72" fill="#000" stroke="#000" stroke-width="0.5" text-anchor="middle">0</text>
<text class="ls" transform="translate(563.5,553.3) scale(0.9615,1)" font-size="31.72" fill="#000" stroke="#000" stroke-width="0.5" text-anchor="middle">5</text>
<text class="dj" x="345" y="593.2" font-size="31.5" fill="#000" stroke="#000" stroke-width="0.4" text-anchor="middle" style="font-style:italic;">φ</text>
<g transform="translate(36.5,369.8) rotate(-90)">
<text class="dj" x="0" y="0" font-size="30.3" fill="#000" stroke="#000" stroke-width="0.5" style="font-style:italic;">P</text>
<text class="dj" x="19.4" y="6.5" font-size="22" fill="#000" stroke="#000" stroke-width="0.5">|00⟩</text>
<text class="dj" x="62.4" y="10.3" font-size="15.4" fill="#000" stroke="#000" stroke-width="0.5" style="font-style:italic;">L</text>
</g>
<g transform="translate(36.5,494) rotate(-90)">
<text class="dj" x="0" y="0" font-size="30.3" fill="#000" stroke="#000" stroke-width="0.5" style="font-style:italic;">P</text>
<text class="dj" x="19.4" y="6.5" font-size="22" fill="#000" stroke="#000" stroke-width="0.5">|01⟩</text>
<text class="dj" x="62.4" y="10.3" font-size="15.4" fill="#000" stroke="#000" stroke-width="0.5" style="font-style:italic;">L</text>
</g>
<text class="ls" x="141.9" y="302.5" font-size="28.2" fill="#DC143C" stroke="#DC143C" stroke-width="0.5">init. </text>
<text class="dj" x="194" y="302.5" font-size="27.3" fill="#DC143C" stroke="#DC143C" stroke-width="0.3">|</text>
<text class="dj" x="200.7" y="302.5" font-size="27.3" fill="#DC143C" stroke="#DC143C" stroke-width="0.3" letter-spacing="-0.55">00</text>
<text class="dj" x="233.5" y="305.1" font-size="31.3" fill="#DC143C">⟩</text>
<text class="dj" x="247" y="312.1" font-size="16" fill="#DC143C" stroke="#DC143C" stroke-width="0.4" style="font-style:italic;">L</text>
<text class="ls" x="143.8" y="430.5" font-size="28.2" fill="#228B22" stroke="#228B22" stroke-width="0.5">init. </text>
<text class="dj" x="195.9" y="430.5" font-size="27.3" fill="#228B22" stroke="#228B22" stroke-width="0.3">|</text>
<text class="dj" x="202.6" y="430.5" font-size="27.3" fill="#228B22" stroke="#228B22" stroke-width="0.3" letter-spacing="-0.55">01</text>
<text class="dj" x="235.4" y="433.1" font-size="31.3" fill="#228B22">⟩</text>
<text class="dj" x="248.9" y="440.1" font-size="16" fill="#228B22" stroke="#228B22" stroke-width="0.4" style="font-style:italic;">L</text>
<text class="ds" transform="translate(488.4,302.3) scale(1.1500,1)" font-size="26.4" fill="#DC143C">ϕ</text>
<text class="ds" transform="translate(508.6,311.1) scale(1.2000,1)" font-size="14.2" fill="#DC143C" stroke="#DC143C" stroke-width="0.3">1</text>
<text class="ds" transform="translate(475,421) scale(1.1500,1)" font-size="26.4" fill="#228B22">ϕ</text>
<text class="ds" transform="translate(494.7,430.7) scale(1.2000,1)" font-size="14.2" fill="#228B22" stroke="#228B22" stroke-width="0.3">1</text>
<text class="ds" x="504.3" y="421.5" font-size="27.7" fill="#228B22">+</text>
<text class="ds" transform="translate(526.5,421) scale(1.1500,1)" font-size="26.4" fill="#228B22">ϕ</text>
<text class="ds" transform="translate(547,430.7) scale(1.0400,1)" font-size="13.6" fill="#228B22" stroke="#228B22" stroke-width="0.5">zz</text>
<clipPath id="cb"><rect x="744.3" y="327.5" width="414.10000000000014" height="197.89999999999998"/></clipPath>
<g clip-path="url(#cb)">
<line x1="744.3" y1="426.6" x2="1158.4" y2="426.6" stroke="#1E78D2" stroke-width="4.15" stroke-dasharray="4.15 6.8"/>
<line x1="958.3" y1="525.4" x2="958.3" y2="327.5" stroke="#1E78D2" stroke-width="4.15" stroke-dasharray="4.15 6.8"/>
<polyline points="740.9,426.64 761.87,403.5 782.84,379.75 803.81,361.86 824.78,348.32 845.75,340.64 866.72,341.38 887.69,350.45 908.66,366.98 929.63,389.35 950.6,415.36 971.57,442.47 992.54,468.03 1013.51,489.53 1034.48,504.88 1055.45,512.56 1076.42,511.82 1097.39,502.75 1118.36,486.22 1139.33,463.85 1160.3,437.84" fill="none" stroke="#1E78D2" stroke-width="5.7" stroke-opacity="0.9" stroke-linejoin="round"/>
<polyline points="740.9,512.66 761.87,511.66 782.84,502.33 803.81,485.58 824.78,463.07 845.75,436.98 866.72,409.87 887.69,384.41 908.66,363.07 929.63,347.95 950.6,340.54 971.57,341.54 992.54,350.87 1013.51,367.62 1034.48,390.13 1055.45,416.22 1076.42,443.33 1097.39,468.79 1118.36,490.13 1139.33,505.25 1160.3,512.66" fill="none" stroke="#F0940F" stroke-width="5.7" stroke-opacity="0.9" stroke-linejoin="round"/>
<rect x="756.57" y="395.84" width="10.6" height="10.6" fill="#1E78D2" fill-opacity="0.75"/>
<rect x="777.54" y="374.52" width="10.6" height="10.6" fill="#1E78D2" fill-opacity="0.75"/>
<rect x="798.51" y="356.83" width="10.6" height="10.6" fill="#1E78D2" fill-opacity="0.75"/>
<rect x="819.48" y="341.84" width="10.6" height="10.6" fill="#1E78D2" fill-opacity="0.75"/>
<rect x="840.45" y="334.79" width="10.6" height="10.6" fill="#1E78D2" fill-opacity="0.75"/>
<rect x="861.42" y="335.33" width="10.6" height="10.6" fill="#1E78D2" fill-opacity="0.75"/>
<rect x="882.39" y="344.73" width="10.6" height="10.6" fill="#1E78D2" fill-opacity="0.75"/>
<rect x="903.36" y="362.79" width="10.6" height="10.6" fill="#1E78D2" fill-opacity="0.75"/>
<rect x="924.33" y="382.83" width="10.6" height="10.6" fill="#1E78D2" fill-opacity="0.75"/>
<rect x="945.3" y="407.03" width="10.6" height="10.6" fill="#1E78D2" fill-opacity="0.75"/>
<rect x="966.27" y="429.97" width="10.6" height="10.6" fill="#1E78D2" fill-opacity="0.75"/>
<rect x="987.24" y="458.86" width="10.6" height="10.6" fill="#1E78D2" fill-opacity="0.75"/>
<rect x="1008.21" y="484.51" width="10.6" height="10.6" fill="#1E78D2" fill-opacity="0.75"/>
<rect x="1029.18" y="499.14" width="10.6" height="10.6" fill="#1E78D2" fill-opacity="0.75"/>
<rect x="1050.15" y="506.18" width="10.6" height="10.6" fill="#1E78D2" fill-opacity="0.75"/>
<rect x="1071.12" y="506.18" width="10.6" height="10.6" fill="#1E78D2" fill-opacity="0.75"/>
<rect x="1092.09" y="496.79" width="10.6" height="10.6" fill="#1E78D2" fill-opacity="0.75"/>
<rect x="1113.06" y="478.19" width="10.6" height="10.6" fill="#1E78D2" fill-opacity="0.75"/>
<rect x="1134.03" y="456.34" width="10.6" height="10.6" fill="#1E78D2" fill-opacity="0.75"/>
<circle cx="761.87" cy="512.57" r="5.7" fill="#F0940F" fill-opacity="0.85"/>
<circle cx="782.84" cy="499.56" r="5.7" fill="#F0940F" fill-opacity="0.85"/>
<circle cx="803.81" cy="488" r="5.7" fill="#F0940F" fill-opacity="0.85"/>
<circle cx="824.78" cy="459.47" r="5.7" fill="#F0940F" fill-opacity="0.85"/>
<circle cx="845.75" cy="434" r="5.7" fill="#F0940F" fill-opacity="0.85"/>
<circle cx="866.72" cy="411.25" r="5.7" fill="#F0940F" fill-opacity="0.85"/>
<circle cx="887.69" cy="381.63" r="5.7" fill="#F0940F" fill-opacity="0.85"/>
<circle cx="908.66" cy="361.04" r="5.7" fill="#F0940F" fill-opacity="0.85"/>
<circle cx="929.63" cy="348.4" r="5.7" fill="#F0940F" fill-opacity="0.85"/>
<circle cx="950.6" cy="338.11" r="5.7" fill="#F0940F" fill-opacity="0.85"/>
<circle cx="971.57" cy="341.54" r="5.7" fill="#F0940F" fill-opacity="0.85"/>
<circle cx="992.54" cy="347.86" r="5.7" fill="#F0940F" fill-opacity="0.85"/>
<circle cx="1013.51" cy="365.56" r="5.7" fill="#F0940F" fill-opacity="0.85"/>
<circle cx="1034.48" cy="393.73" r="5.7" fill="#F0940F" fill-opacity="0.85"/>
<circle cx="1055.45" cy="409.62" r="5.7" fill="#F0940F" fill-opacity="0.85"/>
<circle cx="1076.42" cy="442.31" r="5.7" fill="#F0940F" fill-opacity="0.85"/>
<circle cx="1097.39" cy="465.79" r="5.7" fill="#F0940F" fill-opacity="0.85"/>
<circle cx="1118.36" cy="490.53" r="5.7" fill="#F0940F" fill-opacity="0.85"/>
<circle cx="1139.33" cy="503.9" r="5.7" fill="#F0940F" fill-opacity="0.85"/>
</g>
<line x1="958.3" y1="462.5" x2="958.3" y2="507" stroke="#231815" stroke-width="2.5"/>
<path d="M958.3,521.4 Q953.42,509.14 946.1,499.5 Q952.81,502.43 958.3,506 Q963.79,502.43 970.5,499.5 Q963.18,509.14 958.3,521.4 Z" fill="#231815" stroke="#231815" stroke-width="0.6" stroke-linejoin="round"/>
<rect x="744.3" y="327.5" width="414.10000000000014" height="197.89999999999998" fill="none" stroke="#000" stroke-width="2.1"/>
<line x1="817.1" y1="525.4" x2="817.1" y2="516" stroke="#000" stroke-width="2.2"/>
<line x1="950.6" y1="525.4" x2="950.6" y2="516" stroke="#000" stroke-width="2.2"/>
<line x1="1084.1" y1="525.4" x2="1084.1" y2="516" stroke="#000" stroke-width="2.2"/>
<line x1="744.3" y1="516.9" x2="753.7" y2="516.9" stroke="#000" stroke-width="2.2"/>
<line x1="744.3" y1="426.6" x2="753.7" y2="426.6" stroke="#000" stroke-width="2.2"/>
<line x1="744.3" y1="336.3" x2="753.7" y2="336.3" stroke="#000" stroke-width="2.2"/>
<text class="ls" transform="translate(733.4,346.9) scale(0.9615,1)" font-size="29.64" fill="#000" stroke="#000" stroke-width="0.5" text-anchor="end">0.5</text>
<text class="ls" transform="translate(733.4,437.3) scale(0.9615,1)" font-size="29.64" fill="#000" stroke="#000" stroke-width="0.5" text-anchor="end">0.0</text>
<text class="ls" transform="translate(733.4,527.4) scale(0.9615,1)" font-size="29.64" fill="#000" stroke="#000" stroke-width="0.5" text-anchor="end">−0.5</text>
<text class="ls" transform="translate(817.1,556) scale(0.9615,1)" font-size="29.64" fill="#000" stroke="#000" stroke-width="0.5" text-anchor="middle">−2</text>
<text class="ls" transform="translate(950.6,556) scale(0.9615,1)" font-size="29.64" fill="#000" stroke="#000" stroke-width="0.5" text-anchor="middle">0</text>
<text class="ls" transform="translate(1084.1,556) scale(0.9615,1)" font-size="29.64" fill="#000" stroke="#000" stroke-width="0.5" text-anchor="middle">2</text>
<text class="dj" x="950.2" y="593.2" font-size="29.5" fill="#000" stroke="#000" stroke-width="0.5" text-anchor="middle" style="font-style:italic;">δ</text>
<g transform="translate(657.6,507.6) rotate(-90)">
<text class="ls" transform="translate(0,0) scale(0.9615,1)" font-size="29.54" fill="#000" stroke="#000" stroke-width="0.5">element of </text>
<text class="dj" x="142.4" y="0" font-size="28.4" fill="#000" stroke="#000" stroke-width="0.5" style="font-style:italic;">ρ</text>
</g>
<rect x="682.8" y="280.9" width="11.4" height="11.4" fill="#1E78D2" fill-opacity="0.72"/>
<circle cx="927.7" cy="286.3" r="5.9" fill="#F0940F" fill-opacity="0.85"/>
<text class="dj" x="725.1" y="295.6" font-size="28.2" fill="#000" stroke="#000" stroke-width="0.5" style="font-style:italic;">Re</text>
<text class="dj" x="761.6" y="295.6" font-size="28.2" fill="#000" stroke="#000" stroke-width="0.5">(</text>
<text class="dj" x="774.9" y="295.6" font-size="28.2" fill="#000" stroke="#000" stroke-width="0.5" style="font-style:italic;">ρ</text>
<text class="dj" x="793.6" y="301.6" font-size="19.6" fill="#000" stroke="#000" stroke-width="0.5">|01⟩</text>
<text class="dj" x="833.4" y="304.6" font-size="13.8" fill="#000" stroke="#000" stroke-width="0.5" style="font-style:italic;">L</text>
<text class="dj" x="842.3" y="301.6" font-size="19.6" fill="#000" stroke="#000" stroke-width="0.5">⟨10|</text>
<text class="dj" x="881.9" y="304.6" font-size="13.8" fill="#000" stroke="#000" stroke-width="0.5" style="font-style:italic;">L</text>
<text class="dj" x="891.9" y="295.6" font-size="28.2" fill="#000" stroke="#000" stroke-width="0.5">)</text>
<text class="dj" x="964.4" y="295.6" font-size="28.2" fill="#000" stroke="#000" stroke-width="0.5" style="font-style:italic;">Im</text>
<text class="dj" x="999.4" y="295.6" font-size="28.2" fill="#000" stroke="#000" stroke-width="0.5">(</text>
<text class="dj" x="1012.1" y="295.6" font-size="28.2" fill="#000" stroke="#000" stroke-width="0.5" style="font-style:italic;">ρ</text>
<text class="dj" x="1030.8" y="301.6" font-size="19.6" fill="#000" stroke="#000" stroke-width="0.5">|01⟩</text>
<text class="dj" x="1070.6" y="304.6" font-size="13.8" fill="#000" stroke="#000" stroke-width="0.5" style="font-style:italic;">L</text>
<text class="dj" x="1079.5" y="301.6" font-size="19.6" fill="#000" stroke="#000" stroke-width="0.5">⟨10|</text>
<text class="dj" x="1119.1" y="304.6" font-size="13.8" fill="#000" stroke="#000" stroke-width="0.5" style="font-style:italic;">L</text>
<text class="dj" x="1129.1" y="295.6" font-size="28.2" fill="#000" stroke="#000" stroke-width="0.5">)</text>
</svg></body></html>
